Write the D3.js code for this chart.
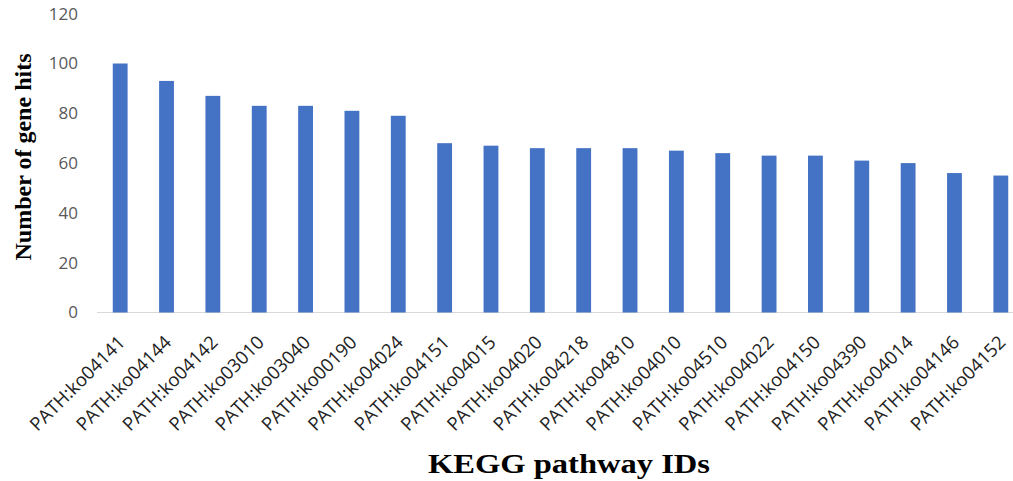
<!DOCTYPE html>
<html>
<head>
<meta charset="utf-8">
<script src="https://cdn.jsdelivr.net/npm/d3@7"></script>
<style>
  html, body { margin: 0; padding: 0; background: #fff; }
  svg { display: block; }
</style>
</head>
<body>
<svg id="chart" width="1013" height="481"></svg>
<script>
// KEGG pathways and the number of gene hits in each
const pathways = [
  "PATH:ko04141", "PATH:ko04144", "PATH:ko04142", "PATH:ko03010", "PATH:ko03040",
  "PATH:ko00190", "PATH:ko04024", "PATH:ko04151", "PATH:ko04015", "PATH:ko04020",
  "PATH:ko04218", "PATH:ko04810", "PATH:ko04010", "PATH:ko04510", "PATH:ko04022",
  "PATH:ko04150", "PATH:ko04390", "PATH:ko04014", "PATH:ko04146", "PATH:ko04152"
];
const geneHits = [100, 93, 87, 83, 83, 81, 79, 68, 67, 66, 66, 66, 65, 64, 63, 63, 61, 60, 56, 55];
const yTicks = [0, 20, 40, 60, 80, 100, 120];

const svg = d3.select("#chart");
const W = 1013;

const x = d3.scaleBand()
  .domain(pathways)
  .range([97, 1024])
  .paddingInner(0.68)
  .paddingOuter(0.34);

const y = d3.scaleLinear()
  .domain([0, 120])
  .range([312.5, 13.7]);

// y tick labels (no axis line, no gridlines)
const yAxis = d3.axisLeft(y).tickValues(yTicks).tickSize(0).tickPadding(0);
const gy = svg.append("g").attr("transform", "translate(78,0)").call(yAxis);
gy.select(".domain").remove();
gy.selectAll("text")
  .attr("font-family", "'Open Sans', sans-serif")
  .attr("font-size", 17)
  .attr("fill", "#595959");

// category axis baseline
svg.append("line")
  .attr("x1", 97).attr("x2", W)
  .attr("y1", y(0)).attr("y2", y(0))
  .attr("stroke", "#d9d9d9").attr("stroke-width", 1.2);

// bars
svg.append("g").selectAll("rect")
  .data(pathways)
  .join("rect")
  .attr("x", d => x(d))
  .attr("width", x.bandwidth())
  .attr("y", (d, i) => y(geneHits[i]))
  .attr("height", (d, i) => y(0) - y(geneHits[i]))
  .attr("fill", "#4472C4");

// rotated category labels
const xAxis = d3.axisBottom(x).tickSize(0).tickPadding(0);
const gx = svg.append("g").attr("transform", `translate(0,${y(0)})`).call(xAxis);
gx.select(".domain").remove();
gx.selectAll("text")
  .attr("font-family", "'Open Sans', sans-serif")
  .attr("font-size", 18.5)
  .attr("fill", "#222")
  .attr("text-anchor", "end")
  .attr("dy", null)
  .attr("transform", "translate(6,31) rotate(-45)");

// axis titles
svg.append("text")
  .attr("transform", "translate(31,157) rotate(-90)")
  .attr("text-anchor", "middle")
  .attr("font-family", "'Liberation Serif', 'Times New Roman', serif")
  .attr("font-weight", "bold")
  .attr("font-size", 23)
  .attr("textLength", 207)
  .attr("lengthAdjust", "spacingAndGlyphs")
  .attr("fill", "#000")
  .text("Number of gene hits");

svg.append("text")
  .attr("x", 569)
  .attr("y", 473)
  .attr("text-anchor", "middle")
  .attr("font-family", "'Liberation Serif', 'Times New Roman', serif")
  .attr("font-weight", "bold")
  .attr("font-size", 28)
  .attr("textLength", 282)
  .attr("lengthAdjust", "spacingAndGlyphs")
  .attr("fill", "#000")
  .text("KEGG pathway IDs");
</script>
</body>
</html>
